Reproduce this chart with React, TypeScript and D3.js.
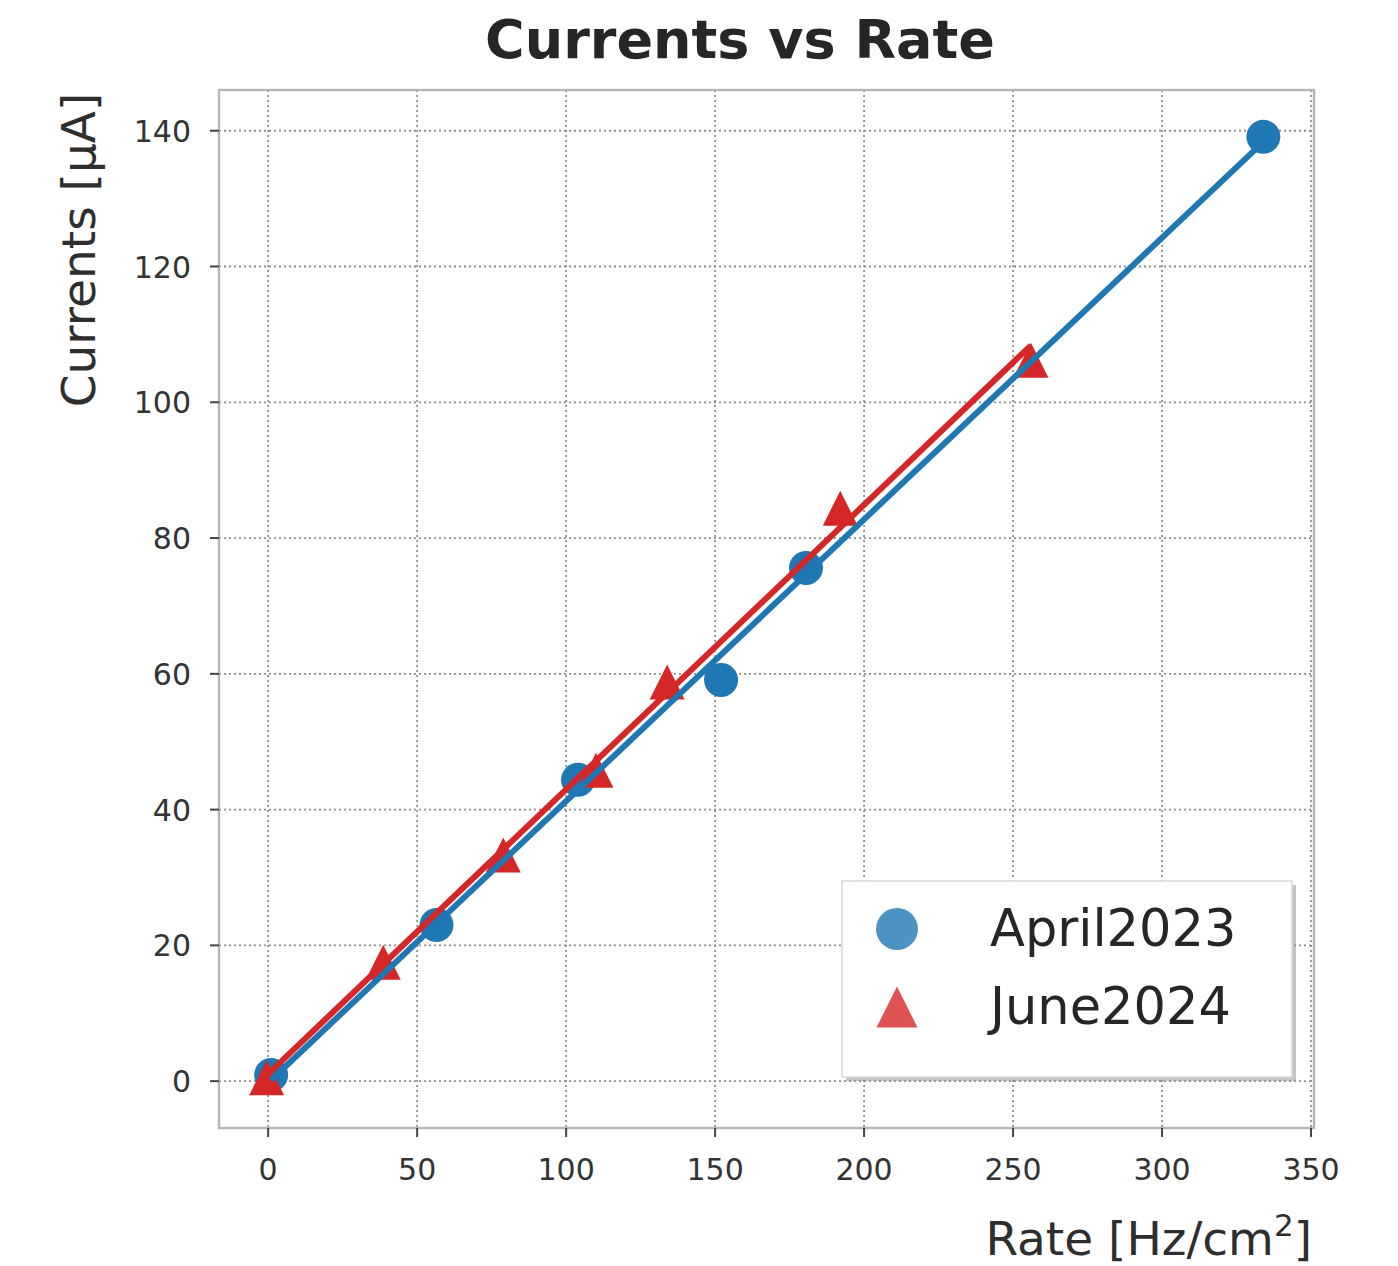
import React from 'react';
import * as d3 from 'd3';

// April2023 series
const aprilRate = [1, 56.5, 104, 152, 180.5, 334];
const aprilCurrent = [0.9, 23, 44.4, 59.1, 75.6, 139.1];
// June2024 series
const juneRate = [-0.5, 38.6, 78.9, 110, 133.9, 192, 256];
const juneCurrent = [0.5, 17.5, 33.3, 45.8, 58.8, 84.4, 106.2];

const xTicks = [0, 50, 100, 150, 200, 250, 300, 350];
const yTicks = [0, 20, 40, 60, 80, 100, 120, 140];
const seriesNames = ['April2023', 'June2024'];

const W = 1398;
const H = 1266;
const box = { left: 219, top: 90, right: 1314, bottom: 1128 };
const BLUE = '#1f77b4';
const RED = '#d62728';
const FONT = '"DejaVu Sans", Verdana, sans-serif';

// matplotlib-like '^' marker: as wide as it is tall, centred on its box
const mplTriangle = {
  draw(ctx: any, size: number) {
    const h = Math.sqrt(size) / 2;
    ctx.moveTo(0, -h);
    ctx.lineTo(h, h);
    ctx.lineTo(-h, h);
    ctx.closePath();
  },
};

// least squares fit, drawn over the series' x extent
function fit(xs: number[], ys: number[]) {
  const mx = d3.mean(xs)!;
  const my = d3.mean(ys)!;
  let sxy = 0, sxx = 0;
  xs.forEach((x, i) => { sxy += (x - mx) * (ys[i] - my); sxx += (x - mx) * (x - mx); });
  const slope = sxy / sxx;
  const icpt = my - slope * mx;
  const [x0, x1] = d3.extent(xs) as [number, number];
  return [[x0, icpt + slope * x0], [x1, icpt + slope * x1]] as [number, number][];
}

export default function App() {
  const x = d3.scaleLinear().domain([-16.5, 351]).range([box.left, box.right]);
  const y = d3.scaleLinear().domain([-6.9, 146]).range([box.bottom, box.top]);
  const line = d3.line<[number, number]>().x(d => x(d[0])).y(d => y(d[1]));
  const tri = d3.symbol().type(mplTriangle as any).size(35 * 35)();
  const triLegend = d3.symbol().type(mplTriangle as any).size(41 * 41)();

  const aprilFit = fit(aprilRate, aprilCurrent);
  const juneFit = fit(juneRate, juneCurrent);

  return (
    <svg width={W} height={H} style={{ position: 'absolute', left: 0, top: 0, background: '#fff' }} fontFamily={FONT}>
      <rect x={0} y={0} width={W} height={H} fill="#fff" />
      {/* grid */}
      {xTicks.map(t => (
        <line key={'gx' + t} x1={x(t)} x2={x(t)} y1={box.top} y2={box.bottom}
          stroke="#8f8f8f" strokeWidth={1.8} strokeDasharray="2,3" />
      ))}
      {yTicks.map(t => (
        <line key={'gy' + t} x1={box.left} x2={box.right} y1={y(t)} y2={y(t)}
          stroke="#8f8f8f" strokeWidth={1.8} strokeDasharray="2,3" />
      ))}
      {/* frame */}
      <rect x={box.left} y={box.top} width={box.right - box.left} height={box.bottom - box.top}
        fill="none" stroke="#b5b5b5" strokeWidth={2.4} />
      {/* ticks */}
      {xTicks.map(t => (
        <g key={'tx' + t}>
          <line x1={x(t)} x2={x(t)} y1={box.bottom} y2={box.bottom + 9} stroke="#444" strokeWidth={2} />
          <text x={x(t)} y={box.bottom + 52} textAnchor="middle" fontSize={30} fill="#333">{t}</text>
        </g>
      ))}
      {yTicks.map(t => (
        <g key={'ty' + t}>
          <line x1={box.left - 9} x2={box.left} y1={y(t)} y2={y(t)} stroke="#444" strokeWidth={2} />
          <text x={box.left - 28} y={y(t) + 11} textAnchor="end" fontSize={30} fill="#333">{t}</text>
        </g>
      ))}
      {/* markers */}
      {aprilRate.map((r, i) => (
        <circle key={'a' + i} cx={x(r)} cy={y(aprilCurrent[i])} r={17} fill={BLUE} />
      ))}
      {juneRate.map((r, i) => (
        <path key={'j' + i} d={tri!} transform={`translate(${x(r)},${y(juneCurrent[i])})`} fill={RED} />
      ))}
      {/* fit lines */}
      <path d={line(aprilFit)!} fill="none" stroke={BLUE} strokeWidth={6} />
      <path d={line(juneFit)!} fill="none" stroke={RED} strokeWidth={6} />
      {/* title and labels */}
      <text x={740} y={58} textAnchor="middle" fontSize={54} fontWeight="bold" fill="#262626">Currents vs Rate</text>
      <text transform={`translate(95,250) rotate(-90)`} textAnchor="middle" fontSize={47} fill="#2e2e2e">Currents [μA]</text>
      <text x={1312} y={1255} textAnchor="end" fontSize={47} fill="#2e2e2e">
        Rate [Hz/cm<tspan dy={-19} fontSize={31}>2</tspan><tspan dy={19}>]</tspan>
      </text>
      {/* legend */}
      <rect x={846} y={885} width={450} height={196} fill="#8a8a8a" opacity={0.5} />
      <rect x={842} y={881} width={450} height={196} fill="#fff" stroke="#d8d8d8" strokeWidth={1.5} />
      <circle cx={897} cy={929} r={21} fill={BLUE} fillOpacity={0.8} />
      <path d={triLegend!} transform="translate(897,1007)" fill={RED} fillOpacity={0.8} />
      <text x={990} y={946} fontSize={51} fill="#262626">{seriesNames[0]}</text>
      <text x={990} y={1024} fontSize={51} fill="#262626">{seriesNames[1]}</text>
    </svg>
  );
}
